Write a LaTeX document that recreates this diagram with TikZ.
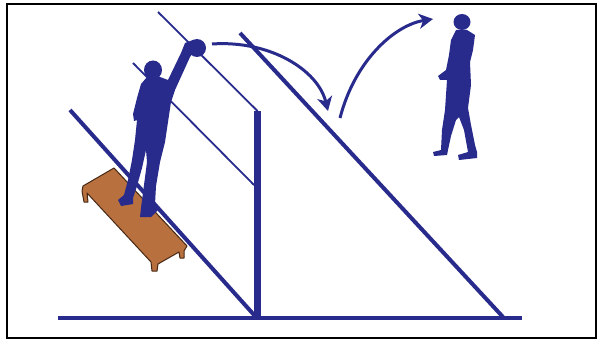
\documentclass[tikz,border=0pt]{standalone}
\usetikzlibrary{arrows.meta}
\definecolor{navy}{RGB}{40,42,140}
\definecolor{wood}{RGB}{184,112,62}
\definecolor{wooddark}{RGB}{70,40,20}
\begin{document}
\begin{tikzpicture}[x=1pt,y=-1pt,
  court/.style={navy,line width=4pt},
  thinline/.style={navy,line width=1.8pt},
  figure/.style={fill=navy,draw=none},
  flight/.style={navy,line width=3pt,-{Stealth[length=14pt,width=15pt,inset=4pt]}}]
\useasboundingbox (0,0) rectangle (602,342);
% frame
\draw[black,line width=2pt] (7,4) rectangle (596,338);

% points on the court and net
\coordinate (groundL) at (58,318);
\coordinate (groundR) at (522,318);
\coordinate (postTop) at (257.5,111);
\coordinate (postBase) at (257.5,318);
\coordinate (sideA) at (70,110);
\coordinate (sideAend) at (255,316);
\coordinate (sideB) at (240,33);
\coordinate (sideBend) at (503,317);
\coordinate (netTopStart) at (158,12);
\coordinate (netLowStart) at (133,63);
\coordinate (netLowEnd) at (254,185);

% bench
\filldraw[fill=wood,draw=wooddark,line width=1pt,line join=round]
  (83,186) -- (114,168) -- (187,246) -- (184,251) -- (184,258) -- (180,258)
  -- (179,252) -- (158,264) -- (157,271) -- (152,271) -- (151,262)
  -- (87,193) -- (88,202) -- (84,202) -- (82,191) -- cycle;

% court lines
\draw[court] (sideA) -- (sideAend);
\draw[court] (sideB) -- (sideBend);
\draw[thinline] (netTopStart) -- (postTop);
\draw[thinline] (netLowStart) -- (netLowEnd);
\draw[navy,line width=6.5pt] (postTop) -- (postBase);
\draw[navy,line width=3.5pt] (groundL) -- (groundR);

% ball
\node[figure,circle,minimum size=18pt,inner sep=0pt] (ball) at (197,48) {};

% player on the bench
\fill[figure] (153,70) ellipse (9pt and 9.5pt);
\fill[figure]
  (147,77) -- (160,77) -- (168,80) -- (181,53) -- (185,43) -- (193,40)
  -- (195,50) -- (190,57) -- (175,90) -- (171,102) -- (168,122) -- (165,142)
  -- (160,162) -- (156,186) -- (155,204) -- (158,210) -- (151,217)
  -- (140,217) -- (141,208) -- (144,185) -- (147,162) -- (146,150)
  -- (142,168) -- (137,186) -- (133,198) -- (133,204) -- (121,206)
  -- (118,200) -- (124,195) -- (128,180) -- (132,160) -- (135,140)
  -- (137,120) -- (134,121) -- (133,114) -- (137,98) -- (141,84) -- cycle;

% walking player
\fill[figure] (462,22) ellipse (8.5pt and 8pt);
\fill[figure]
  (456,30) -- (467,30) -- (475,35) -- (473,50) -- (470,62) -- (471,85)
  -- (468,108) -- (471,125) -- (475,145) -- (477,152) -- (477,158)
  -- (459,160) -- (458,155) -- (468,152) -- (464,130) -- (459,117)
  -- (456,120) -- (451,136) -- (448,150) -- (447,155) -- (434,156)
  -- (433,152) -- (441,150) -- (442,130) -- (445,110) -- (446,95)
  -- (447,80) -- (440,80) -- (438,76) -- (446,70) -- (449,55) -- (451,40)
  -- (454,34) -- cycle;

% flight paths
\coordinate (hitEnd) at (328,111);
\coordinate (jumpStart) at (340,118);
\coordinate (jumpEnd) at (433,19);
\draw[flight] (212,44) .. controls (270,40) and (318,70) .. (hitEnd);
\draw[flight] (jumpStart) .. controls (355,60) and (395,25) .. (jumpEnd);
\end{tikzpicture}
\end{document}
